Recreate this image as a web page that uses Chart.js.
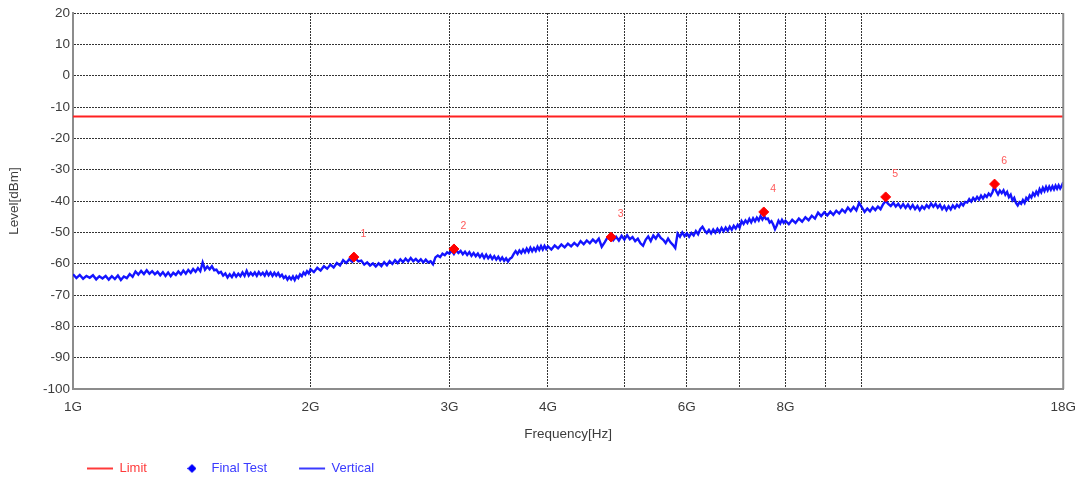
<!DOCTYPE html>
<html>
<head>
<meta charset="utf-8">
<title>Level vs Frequency</title>
<script src="https://cdn.jsdelivr.net/npm/chart.js@4.4.0/dist/chart.umd.min.js"></script>
<style>
  html, body { margin: 0; padding: 0; background: #fff; }
  #wrap { position: relative; width: 1086px; height: 483px; }
</style>
</head>
<body>
<div id="wrap"><canvas id="emcChart"></canvas></div>
<script>
// Limit line (dBm)
const limitFreq = [1, 18];
const limitLevel = [-13, -13];

// Final test points (GHz / dBm)
const finalFreq = [2.27, 3.04, 4.81, 7.51, 10.72, 14.73];
const finalLevel = [-57.9, -55.3, -51.5, -43.5, -38.7, -34.6];
const finalLabels = ['1', '2', '3', '4', '5', '6'];

// Vertical trace (GHz)
const traceFreq = [
    // 1 - 2 GHz
    1.00, 1.01, 1.02, 1.03, 1.04, 1.05, 1.06, 1.07, 1.08, 1.09,
    1.10, 1.11, 1.12, 1.13, 1.14, 1.15, 1.16, 1.17, 1.18, 1.19,
    1.20, 1.21, 1.22, 1.23, 1.24, 1.25, 1.26, 1.27, 1.28, 1.29,
    1.30, 1.31, 1.32, 1.33, 1.34, 1.35, 1.36, 1.37, 1.38, 1.39,
    1.40, 1.41, 1.42, 1.43, 1.44, 1.45, 1.46, 1.47, 1.48, 1.49,
    1.50, 1.51, 1.52, 1.53, 1.54, 1.55, 1.56, 1.57, 1.58, 1.59,
    1.60, 1.61, 1.62, 1.63, 1.64, 1.65, 1.66, 1.67, 1.68, 1.69,
    1.70, 1.71, 1.72, 1.73, 1.74, 1.75, 1.76, 1.77, 1.78, 1.79,
    1.80, 1.81, 1.82, 1.83, 1.84, 1.85, 1.86, 1.87, 1.88, 1.89,
    1.90, 1.91, 1.92, 1.93, 1.94, 1.95, 1.96, 1.97, 1.98, 1.99,
    // 2 - 4 GHz
    2.00, 2.02, 2.04, 2.06, 2.08, 2.10, 2.12, 2.14, 2.16, 2.18,
    2.20, 2.22, 2.24, 2.26, 2.28, 2.30, 2.32, 2.34, 2.36, 2.38,
    2.40, 2.42, 2.44, 2.46, 2.48, 2.50, 2.52, 2.54, 2.56, 2.58,
    2.60, 2.62, 2.64, 2.66, 2.68, 2.70, 2.72, 2.74, 2.76, 2.78,
    2.80, 2.82, 2.84, 2.86, 2.88, 2.90, 2.92, 2.94, 2.96, 2.98,
    3.00, 3.02, 3.04, 3.06, 3.08, 3.10, 3.12, 3.14, 3.16, 3.18,
    3.20, 3.22, 3.24, 3.26, 3.28, 3.30, 3.32, 3.34, 3.36, 3.38,
    3.40, 3.42, 3.44, 3.46, 3.48, 3.50, 3.52, 3.54, 3.56, 3.58,
    3.60, 3.62, 3.64, 3.66, 3.68, 3.70, 3.72, 3.74, 3.76, 3.78,
    3.80, 3.82, 3.84, 3.86, 3.88, 3.90, 3.92, 3.94, 3.96, 3.98,
    // 4 - 8 GHz
    4.00, 4.04, 4.08, 4.12, 4.16, 4.20, 4.24, 4.28, 4.32, 4.36,
    4.40, 4.44, 4.48, 4.52, 4.56, 4.60, 4.64, 4.68, 4.72, 4.76,
    4.80, 4.84, 4.88, 4.92, 4.96, 5.00, 5.04, 5.08, 5.12, 5.16,
    5.20, 5.24, 5.28, 5.32, 5.36, 5.40, 5.44, 5.48, 5.52, 5.56,
    5.60, 5.64, 5.68, 5.72, 5.76, 5.80, 5.84, 5.88, 5.92, 5.96,
    6.00, 6.04, 6.08, 6.12, 6.16, 6.20, 6.24, 6.28, 6.32, 6.36,
    6.40, 6.44, 6.48, 6.52, 6.56, 6.60, 6.64, 6.68, 6.72, 6.76,
    6.80, 6.84, 6.88, 6.92, 6.96, 7.00, 7.04, 7.08, 7.12, 7.16,
    7.20, 7.24, 7.28, 7.32, 7.36, 7.40, 7.44, 7.48, 7.52, 7.56,
    7.60, 7.64, 7.68, 7.72, 7.76, 7.80, 7.84, 7.88, 7.92, 7.96,
    // 8 - 18 GHz
    8.00, 8.08, 8.16, 8.24, 8.32, 8.40, 8.48, 8.56, 8.64, 8.72,
    8.80, 8.88, 8.96, 9.04, 9.12, 9.20, 9.28, 9.36, 9.44, 9.52,
    9.60, 9.68, 9.76, 9.84, 9.92, 10.00, 10.08, 10.16, 10.24, 10.32,
    10.40, 10.48, 10.56, 10.64, 10.72, 10.80, 10.88, 10.96, 11.04, 11.12,
    11.20, 11.28, 11.36, 11.44, 11.52, 11.60, 11.68, 11.76, 11.84, 11.92,
    12.00, 12.08, 12.16, 12.24, 12.32, 12.40, 12.48, 12.56, 12.64, 12.72,
    12.80, 12.88, 12.96, 13.04, 13.12, 13.20, 13.28, 13.36, 13.44, 13.52,
    13.60, 13.68, 13.76, 13.84, 13.92, 14.00, 14.08, 14.16, 14.24, 14.32,
    14.40, 14.48, 14.56, 14.64, 14.72, 14.80, 14.88, 14.96, 15.04, 15.12,
    15.20, 15.28, 15.36, 15.44, 15.52, 15.60, 15.68, 15.76, 15.84, 15.92,
    16.00, 16.08, 16.16, 16.24, 16.32, 16.40, 16.48, 16.56, 16.64, 16.72,
    16.80, 16.88, 16.96, 17.04, 17.12, 17.20, 17.28, 17.36, 17.44, 17.52,
    17.60, 17.68, 17.76, 17.84, 17.92, 18.00
];
const traceLevel = [
    // 1 - 2 GHz
    -63.4, -64.6, -63.6, -64.8, -63.9, -64.5, -63.7, -65.0, -64.0, -64.7,
    -63.9, -65.1, -64.0, -64.9, -63.8, -65.2, -64.1, -64.6, -63.3, -64.2,
    -62.5, -63.5, -62.3, -63.3, -62.1, -63.2, -62.4, -63.4, -62.6, -63.7,
    -62.7, -63.9, -62.8, -64.0, -62.9, -63.6, -62.5, -63.4, -62.2, -63.2,
    -62.0, -62.9, -61.7, -62.6, -61.4, -62.4, -59.6, -61.9, -60.9, -61.8,
    -60.8, -62.1, -61.9, -63.0, -62.6, -63.8, -63.1, -64.4, -63.4, -64.3,
    -63.0, -64.1, -63.2, -64.0, -62.8, -63.9, -62.3, -63.8, -62.9, -63.7,
    -62.8, -63.9, -62.7, -63.6, -62.9, -63.8, -62.6, -63.7, -62.8, -63.9,
    -62.9, -63.8, -63.0, -64.1, -63.5, -64.6, -64.0, -65.1, -64.2, -65.0,
    -64.1, -65.2, -64.0, -64.6, -63.4, -64.0, -62.8, -63.5, -62.4, -63.1,
    // 2 - 4 GHz
    -61.8, -62.7, -61.3, -62.2, -60.8, -61.6, -60.3, -61.2, -59.8, -60.6,
    -58.9, -59.8, -58.6, -59.4, -58.2, -59.3, -59.0, -60.3, -59.6, -60.6,
    -59.9, -60.9, -59.9, -60.8, -59.5, -60.5, -59.2, -60.1, -58.9, -59.8,
    -58.6, -59.5, -58.4, -59.3, -58.2, -59.2, -58.5, -59.4, -58.6, -59.6,
    -58.7, -59.6, -59.2, -60.2, -58.0, -57.4, -57.9, -56.8, -57.3, -56.4,
    -56.8, -55.8, -56.9, -55.7, -56.6, -55.9, -57.0, -56.2, -57.2, -56.3,
    -57.5, -56.6, -57.6, -56.8, -57.9, -57.0, -58.2, -57.1, -58.3, -57.4,
    -58.5, -57.6, -58.7, -57.8, -58.9, -58.0, -59.1, -58.3, -59.3, -58.4,
    -58.0, -56.9, -56.0, -56.9, -55.8, -56.6, -55.5, -56.4, -55.2, -56.2,
    -54.9, -56.0, -55.0, -55.9, -54.6, -55.6, -54.4, -55.5, -54.3, -55.3,
    // 4 - 8 GHz
    -54.5, -55.5, -54.2, -55.1, -53.9, -54.8, -53.6, -54.5, -53.4, -54.3,
    -52.8, -53.8, -52.6, -53.5, -52.3, -53.2, -52.0, -54.6, -53.2, -51.6,
    -51.2, -52.5, -51.4, -52.6, -51.1, -52.3, -50.9, -52.2, -51.5, -52.8,
    -52.0, -53.5, -54.3, -52.4, -51.3, -52.8, -51.0, -52.0, -50.6, -51.8,
    -52.4, -53.4, -52.0, -53.2, -54.0, -55.0, -50.4, -51.4, -50.0, -51.2,
    -50.3, -51.4, -50.2, -51.0, -49.6, -50.6, -49.0, -48.2, -49.4, -50.2,
    -49.2, -50.3, -49.1, -50.1, -48.9, -49.9, -48.6, -49.7, -48.5, -49.5,
    -48.2, -49.2, -47.9, -48.8, -47.6, -48.5, -46.4, -47.3, -46.2, -47.0,
    -45.7, -46.8, -45.5, -46.5, -45.3, -46.2, -44.8, -45.9, -44.9, -45.8,
    -45.6, -46.9, -46.4, -47.5, -49.0, -47.8, -46.3, -47.2, -46.0, -47.0,
    // 8 - 18 GHz
    -46.3, -47.4, -46.0, -47.0, -45.6, -46.6, -45.2, -46.1, -44.7, -45.6,
    -43.7, -44.8, -43.6, -44.6, -43.4, -44.4, -43.1, -44.0, -42.7, -43.6,
    -42.1, -43.2, -41.9, -43.0, -40.6, -42.0, -43.5, -42.4, -43.3, -42.0,
    -42.9, -41.8, -42.6, -41.0, -40.0, -40.9, -41.6, -40.6, -41.8, -40.9,
    -42.1, -41.0, -42.2, -41.1, -42.4, -41.3, -42.6, -41.6, -42.9, -41.7,
    -42.5, -41.3, -42.1, -40.8, -41.8, -40.9, -42.1, -41.2, -42.6, -41.6,
    -42.9, -41.7, -42.7, -41.4, -42.3, -41.2, -41.9, -40.7, -41.4, -40.3,
    -40.5, -39.4, -40.2, -39.0, -39.8, -38.7, -39.5, -38.3, -39.2, -38.1,
    -38.7, -37.6, -38.3, -37.2, -35.4, -36.8, -37.9, -36.7, -37.5, -36.6,
    -38.0, -37.1, -38.8, -38.0, -39.8, -39.0, -40.6, -41.4, -40.4, -40.9,
    -39.7, -40.6, -39.0, -39.6, -38.2, -38.9, -37.5, -38.3, -37.0, -37.9,
    -36.2, -37.2, -35.8, -36.8, -35.5, -36.6, -35.4, -36.4, -35.3, -36.3,
    -35.1, -36.1, -35.0, -36.0, -35.2, -34.0
];

// Axis ticks
const xTickValues = [1, 2, 3, 4, 5, 6, 7, 8, 9, 10, 18];
const xTickLabels = ['1G', '2G', '3G', '4G', '', '6G', '', '8G', '', '', '18G'];
const yMin = -100;
const yMax = 20;
const yStep = 10;

const legendColors = ['#ff3a3a', '#3a3aff', '#3a3aff'];

const toPoints = (xs, ys) => xs.map((x, i) => ({ x: x, y: ys[i] }));

const fontFamily = '"Liberation Sans", Arial, sans-serif';
const axisFont = { family: fontFamily, size: 13.5 };
const textColor = '#3c3c3c';
const gridColor = '#333333';

// small blue diamond used in the legend for "Final Test"
const legendDiamond = document.createElement('canvas');
legendDiamond.width = 9;
legendDiamond.height = 9;
const dctx = legendDiamond.getContext('2d');
dctx.fillStyle = '#0000ff';
dctx.beginPath();
dctx.moveTo(4.5, 0);
dctx.lineTo(9, 4.5);
dctx.lineTo(4.5, 9);
dctx.lineTo(0, 4.5);
dctx.closePath();
dctx.fill();

// numbers next to the final test markers
const markerNumbers = {
    id: 'markerNumbers',
    afterDatasetsDraw(chart) {
        const meta = chart.getDatasetMeta(1);
        const ctx = chart.ctx;
        ctx.save();
        ctx.font = '10.5px ' + fontFamily;
        ctx.fillStyle = '#ff5a5a';
        ctx.textAlign = 'center';
        ctx.textBaseline = 'middle';
        meta.data.forEach((pt, i) => {
            ctx.fillText(finalLabels[i], pt.x + 9.5, pt.y - 23);
        });
        ctx.restore();
    }
};

// solid right edge of the plot
const plotFrame = {
    id: 'plotFrame',
    afterDraw(chart) {
        const a = chart.chartArea;
        const ctx = chart.ctx;
        ctx.save();
        ctx.strokeStyle = '#8c8c8c';
        ctx.lineWidth = 2;
        ctx.beginPath();
        ctx.moveTo(a.right, a.top);
        ctx.lineTo(a.right, a.bottom);
        ctx.stroke();
        ctx.restore();
    }
};

// put the legend row at the bottom left like the original
const legendPlace = {
    id: 'legendPlace',
    afterLayout(chart) {
        const lg = chart.legend;
        lg.left = 55;
        lg.top = 430;
        lg.bottom = 483;
        lg.height = 53;
    }
};

const ctx = document.getElementById('emcChart');

new Chart(ctx, {
    type: 'line',
    data: {
        datasets: [
            {
                label: 'Limit',
                data: toPoints(limitFreq, limitLevel),
                borderColor: '#ff2020',
                backgroundColor: '#ff2020',
                borderWidth: 2,
                pointRadius: 0,
                pointStyle: 'line'
            },
            {
                label: 'Final Test',
                data: toPoints(finalFreq, finalLevel),
                showLine: false,
                pointStyle: 'rectRot',
                pointRadius: 5,
                borderWidth: 1,
                borderColor: '#ff0000',
                backgroundColor: '#ff0000'
            },
            {
                label: 'Vertical',
                data: toPoints(traceFreq, traceLevel),
                borderColor: 'rgba(0, 0, 255, 0.92)',
                backgroundColor: '#0000ff',
                borderWidth: 2.4,
                pointRadius: 0,
                pointStyle: 'line',
                tension: 0
            }
        ]
    },
    options: {
        responsive: true,
        maintainAspectRatio: false,
        animation: false,
        events: [],
        layout: {
            padding: { top: 13, right: 22, bottom: 18, left: 0 }
        },
        plugins: {
            tooltip: { enabled: false },
            legend: {
                position: 'bottom',
                align: 'start',
                maxHeight: 20,
                labels: {
                    usePointStyle: true,
                    pointStyleWidth: 26,
                    padding: 32,
                    font: { family: fontFamily, size: 13 },
                    generateLabels(chart) {
                        const items = Chart.defaults.plugins.legend.labels.generateLabels(chart);
                        items.forEach((it, i) => {
                            it.fontColor = legendColors[i];
                        });
                        items[0].strokeStyle = '#ff3a3a';
                        items[0].lineWidth = 2;
                        items[1].pointStyle = legendDiamond;
                        items[2].strokeStyle = '#3a3aff';
                        items[2].lineWidth = 2;
                        return items;
                    }
                }
            }
        },
        scales: {
            x: {
                type: 'logarithmic',
                min: 1,
                max: 18,
                afterBuildTicks(scale) {
                    scale.ticks = xTickValues.map(v => ({ value: v }));
                },
                afterFit(scale) {
                    scale.height = 56;
                },
                ticks: {
                    autoSkip: false,
                    maxRotation: 0,
                    padding: 10,
                    color: textColor,
                    font: axisFont,
                    callback: function(value) {
                        const i = xTickValues.indexOf(value);
                        return i >= 0 ? xTickLabels[i] : '';
                    }
                },
                grid: {
                    color: gridColor,
                    lineWidth: 1,
                    drawTicks: false
                },
                border: {
                    display: true,
                    color: '#8c8c8c',
                    width: 2,
                    dash: [2, 1]
                },
                title: {
                    display: true,
                    text: 'Frequency[Hz]',
                    color: textColor,
                    font: axisFont,
                    padding: { top: 12, bottom: 3 }
                }
            },
            y: {
                min: yMin,
                max: yMax,
                afterFit(scale) {
                    scale.width = 73;
                },
                ticks: {
                    stepSize: yStep,
                    padding: 3,
                    color: textColor,
                    font: axisFont
                },
                grid: {
                    color: gridColor,
                    lineWidth: 1,
                    drawTicks: false
                },
                border: {
                    display: true,
                    color: '#8c8c8c',
                    width: 2,
                    dash: [2, 1]
                },
                title: {
                    display: true,
                    text: 'Level[dBm]',
                    color: textColor,
                    font: axisFont,
                    padding: { top: 6, bottom: 0 }
                }
            }
        }
    },
    plugins: [markerNumbers, plotFrame, legendPlace]
});
</script>
</body>
</html>
